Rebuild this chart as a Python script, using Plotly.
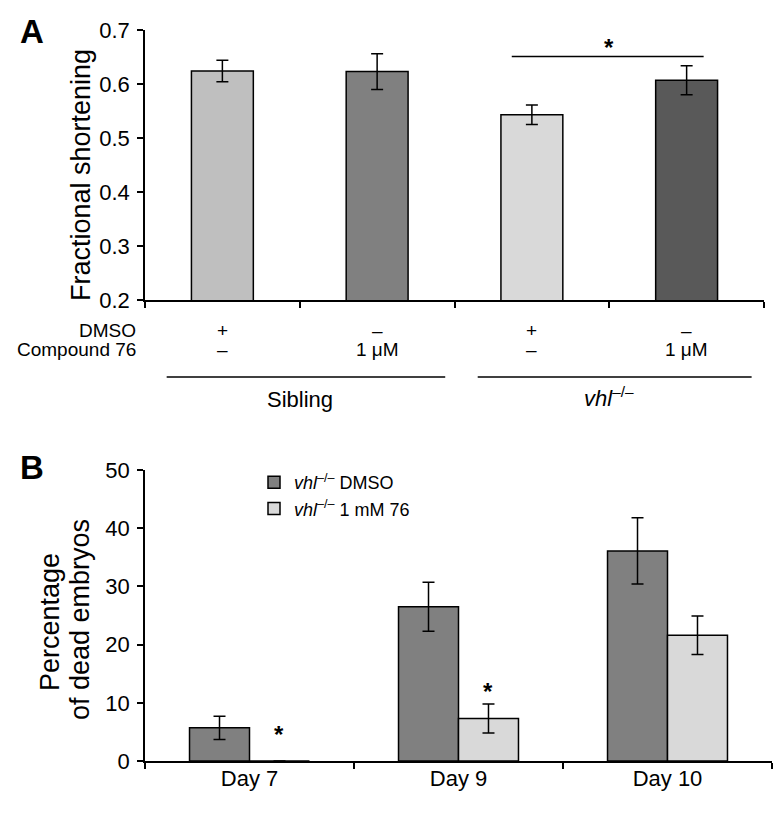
import plotly.graph_objects as go

W, H = 779, 817

# ---------- Panel A data ----------
a_groups = ["Sibling DMSO", "Sibling 76", "vhl DMSO", "vhl 76"]
a_values = [0.624, 0.623, 0.543, 0.607]
a_errors = [0.020, 0.033, 0.018, 0.027]
a_colors = ["#bfbfbf", "#808080", "#d9d9d9", "#595959"]
a_dmso = ["+", "–", "+", "–"]
a_compound = ["–", "1 μM", "–", "1 μM"]
a_yticks = [0.2, 0.3, 0.4, 0.5, 0.6, 0.7]

# ---------- Panel B data ----------
b_days = ["Day 7", "Day 9", "Day 10"]
b_dmso = [5.7, 26.5, 36.1]
b_dmso_err = [2.0, 4.2, 5.7]
b_76 = [0, 7.3, 21.6]
b_76_err = [None, 2.5, 3.3]
b_yticks = [0, 10, 20, 30, 40, 50]

FONT = "Liberation Sans, Arial, sans-serif"
VHL = "<i>vhl</i><sup>–/–</sup>"

fig = go.Figure()

ax = list(range(len(a_groups)))
fig.add_trace(go.Bar(
    x=ax, y=a_values, width=0.4,
    marker=dict(color=a_colors, line=dict(color="black", width=1.5)),
    error_y=dict(type="data", array=a_errors, color="black", thickness=1.5, width=6),
    xaxis="x", yaxis="y", showlegend=False,
))

bx = list(range(len(b_days)))
bw = 0.287
fig.add_trace(go.Bar(
    x=bx, y=b_dmso, width=bw, offset=-bw, name=VHL + " DMSO",
    marker=dict(color="#808080", line=dict(color="black", width=1.5)),
    error_y=dict(type="data", array=b_dmso_err, color="black", thickness=1.5, width=6),
    xaxis="x2", yaxis="y2",
))
fig.add_trace(go.Bar(
    x=bx, y=b_76, width=bw, offset=0, name=VHL + " 1 mM 76",
    marker=dict(color="#d9d9d9", line=dict(color="black", width=1.5)),
    error_y=dict(type="data", array=b_76_err, color="black", thickness=1.5, width=6),
    xaxis="x2", yaxis="y2",
))

axis_common = dict(showline=True, linecolor="black", linewidth=1.5, showgrid=False,
                   zeroline=False, tickcolor="black", tickwidth=1.5, automargin=False,
                   tickfont=dict(family=FONT, size=22, color="black"))

fig.update_layout(
    width=W, height=H,
    margin=dict(l=0, r=0, t=0, b=0, autoexpand=False),
    paper_bgcolor="white", plot_bgcolor="white",
    font=dict(family=FONT, color="black"),
    barmode="overlay",
    xaxis=dict(domain=[145 / W, 764 / W], range=[-0.5, len(a_groups) - 0.5],
               tickmode="array", tickvals=[i - 0.5 for i in range(len(a_groups) + 1)],
               showticklabels=False, ticks="outside", ticklen=6,
               anchor="y", **axis_common),
    yaxis=dict(domain=[1 - 300 / H, 1 - 30 / H], range=[0.2, 0.7],
               tickmode="array", tickvals=a_yticks, ticktext=[f"{v:.1f}" for v in a_yticks],
               ticks="outside", ticklen=6, anchor="x", ticklabelstandoff=3, **axis_common),
    xaxis2=dict(domain=[145 / W, 772 / W], range=[-0.5, len(b_days) - 0.5],
                tickmode="array", tickvals=bx, ticktext=b_days, ticks="",
                minor=dict(tickmode="array", tickvals=[i - 0.5 for i in range(len(b_days) + 1)],
                           ticks="outside", ticklen=6, tickcolor="black", tickwidth=1.5),
                anchor="y2", ticklabelstandoff=-3, **axis_common),
    yaxis2=dict(domain=[1 - 761 / H, 1 - 470 / H], range=[0, 50],
                tickmode="array", tickvals=b_yticks, ticks="outside", ticklen=6,
                anchor="x2", ticklabelstandoff=3, **axis_common),
    legend=dict(x=254 / W, y=1 - 464 / H, xanchor="left", yanchor="top",
                font=dict(family=FONT, size=18, color="black"),
                bgcolor="rgba(0,0,0,0)", tracegroupgap=0, itemwidth=30),
)


def A(text, x, y, xref="paper", yref="paper", size=19, xanchor="center", angle=0):
    return dict(text=text, x=x, y=y, xref=xref, yref=yref, showarrow=False,
                xanchor=xanchor, yanchor="middle", textangle=angle,
                font=dict(size=size, family=FONT, color="black"))


ann = []
# Panel letters
ann.append(A("<b>A</b>", 32 / W, 1 - 32 / H, size=33))
ann.append(A("<b>B</b>", 32 / W, 1 - 467 / H, size=33))
# Axis titles
ann.append(A("Fractional shortening", 81 / W, 1 - 175 / H, size=27, angle=-90))
ann.append(A("Percentage", 50 / W, 1 - 622 / H, size=27, angle=-90))
ann.append(A("of dead embryos", 80 / W, 1 - 620 / H, size=27, angle=-90))
# Treatment rows under panel A
ann.append(A("DMSO", 138 / W, 1 - 330 / H, xanchor="right"))
ann.append(A("Compound 76", 138 / W, 1 - 349 / H, xanchor="right"))
for i in ax:
    ann.append(A(a_dmso[i], i, 1 - 330 / H, xref="x"))
    ann.append(A(a_compound[i], i, 1 - 349 / H, xref="x"))
ann.append(A("Sibling", 0.5, 1 - 399 / H, xref="x", size=22))
ann.append(A(VHL, 2.5, 1 - 397 / H, xref="x", size=22))
# Significance star panel A
ann.append(A("<b>*</b>", 2.5, 0.667, xref="x", yref="y", size=24))
# Stars panel B
ann.append(A("<b>*</b>", bw / 2, 4.6, xref="x2", yref="y2", size=24))
ann.append(A("<b>*</b>", 1 + bw / 2, 12.0, xref="x2", yref="y2", size=24))
fig.update_layout(annotations=ann)

shapes = [
    dict(type="line", xref="x", yref="y", x0=1.87, x1=3.11, y0=0.651, y1=0.651,
         line=dict(color="black", width=1.5)),
    dict(type="line", xref="x", yref="paper", x0=-0.36, x1=1.44, y0=1 - 377 / H, y1=1 - 377 / H,
         line=dict(color="black", width=1.5)),
    dict(type="line", xref="x", yref="paper", x0=1.65, x1=3.42, y0=1 - 377 / H, y1=1 - 377 / H,
         line=dict(color="black", width=1.5)),
]
fig.update_layout(shapes=shapes)

fig.write_html("out.html", config={"displayModeBar": False},
               post_script="document.body.style.margin='0';document.body.style.padding='0';")
